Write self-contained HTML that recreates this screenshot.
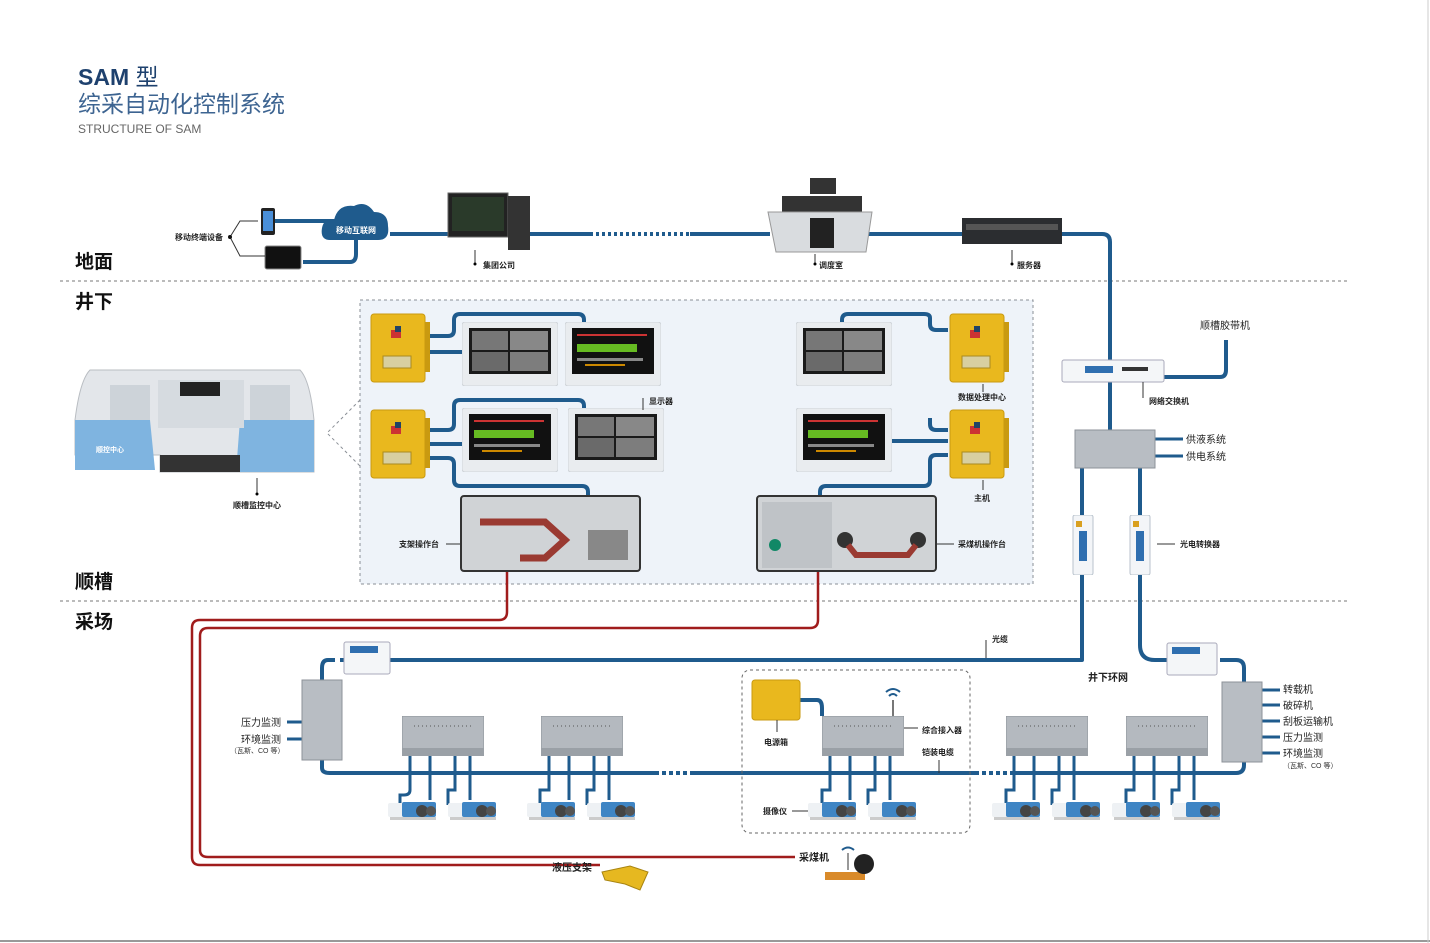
<!DOCTYPE html>
<html><head><meta charset="utf-8">
<style>
html,body{margin:0;padding:0;background:#fff;}
svg{display:block;font-family:"Liberation Sans","Noto Sans CJK SC",sans-serif;}
.t{font-size:8px;fill:#222;font-weight:bold}
.r{font-size:10px;fill:#222}
</style></head><body>
<svg width="1430" height="943" viewBox="0 0 1430 943" xmlns="http://www.w3.org/2000/svg">
<defs>
<symbol id="mon" viewBox="0 0 96 64"><rect x="0" y="0" width="96" height="64" rx="3" fill="#e9ecef" stroke="#cfd4d9"/><rect x="7" y="6" width="82" height="46" fill="#1a1a1a"/><rect x="10" y="9" width="36" height="19" fill="#777"/><rect x="48" y="9" width="38" height="19" fill="#888"/><rect x="10" y="30" width="36" height="19" fill="#6a6a6a"/><rect x="48" y="30" width="38" height="19" fill="#7d7d7d"/></symbol>
<symbol id="mon2" viewBox="0 0 96 64"><rect x="0" y="0" width="96" height="64" rx="3" fill="#e9ecef" stroke="#cfd4d9"/><rect x="7" y="6" width="82" height="46" fill="#111"/><rect x="12" y="12" width="70" height="2" fill="#c33"/><rect x="12" y="22" width="60" height="8" fill="#6b2"/><rect x="12" y="36" width="66" height="3" fill="#888"/><rect x="20" y="42" width="40" height="2" fill="#c80"/></symbol>
<symbol id="ybox" viewBox="0 0 62 72"><rect x="2" y="2" width="54" height="68" rx="3" fill="#e9b81e" stroke="#c99a10"/><rect x="56" y="10" width="5" height="50" fill="#c99a10"/><rect x="14" y="44" width="28" height="12" fill="#d8cfa0" stroke="#a98a20"/><rect x="22" y="18" width="10" height="8" fill="#c33"/><rect x="26" y="14" width="6" height="6" fill="#246"/></symbol>
<symbol id="jb" viewBox="0 0 82 40"><rect x="0" y="0" width="82" height="40" fill="#b4b9bf" stroke="#8d9298"/><rect x="0" y="32" width="82" height="8" fill="#9aa0a6"/><line x1="12" y1="10" x2="70" y2="10" stroke="#555" stroke-dasharray="1 3"/></symbol>
<symbol id="cam" viewBox="0 0 52 20"><rect x="0" y="3" width="20" height="14" rx="2" fill="#eef1f4"/><rect x="14" y="2" width="34" height="15" rx="2" fill="#3f85c4"/><circle cx="34" cy="11" r="6" fill="#444"/><circle cx="43" cy="11" r="5" fill="#555"/><rect x="2" y="17" width="46" height="3" fill="#ccc"/></symbol>
<symbol id="conv" viewBox="0 0 26 60"><rect x="3" y="0" width="20" height="60" rx="2" fill="#f3f5f8" stroke="#b8c2cc"/><rect x="9" y="16" width="8" height="30" fill="#2f6fb0"/><rect x="6" y="6" width="6" height="6" fill="#d9a020"/></symbol>
</defs>

<rect x="0" y="0" width="1430" height="943" fill="#fff"/>
<line x1="0" y1="941" x2="1430" y2="941" stroke="#999" stroke-width="2"/>
<line x1="1428" y1="0" x2="1428" y2="943" stroke="#ccc"/>

<!-- Title -->
<text x="78" y="85" font-size="23" font-weight="bold" fill="#1e416e">SAM <tspan font-weight="normal">型</tspan></text>
<text x="78" y="112" font-size="23" fill="#3d6491">综采自动化控制系统</text>
<text x="78" y="133" font-size="12" fill="#666">STRUCTURE OF SAM</text>

<!-- section lines/labels -->
<line x1="60" y1="281" x2="1350" y2="281" stroke="#777" stroke-dasharray="3 3"/>
<line x1="60" y1="601" x2="1350" y2="601" stroke="#777" stroke-dasharray="3 3"/>
<g font-size="19" font-weight="bold" fill="#111">
<text x="75" y="268">地面</text><text x="75" y="308">井下</text><text x="75" y="588">顺槽</text><text x="75" y="628">采场</text></g>

<!-- panel -->
<rect x="360" y="300" width="673" height="284" fill="#eef3f9" stroke="#8a8f96" stroke-dasharray="3 3"/>
<polyline points="360,400 327,433 360,466" fill="none" stroke="#8a8f96" stroke-dasharray="3 3"/>

<!-- blue lines -->
<g fill="none" stroke="#1f5b8d" stroke-width="4" stroke-linejoin="round">
<path d="M390 234 H590"/><path d="M590 234 H690" stroke-dasharray="3 3"/><path d="M690 234 H770"/><path d="M860 234 H965"/>
<path d="M1060 234 H1102 Q1110 234 1110 242 V432"/>
<path d="M275 221 H335"/><path d="M303 262 H350 Q356 262 356 254 V240"/>
<path d="M1160 377 H1220 Q1226 377 1226 370 V340"/>
<path d="M1082 468 V660 Q1082 660 1072 660 H340"/>
<path d="M1140 468 V645 Q1140 660 1155 660 H1180"/>
<path d="M1220 660 H1236 Q1244 660 1244 668 V682"/>
<path d="M335 660 H328 Q322 660 322 668 V682"/>
<path d="M322 760 V768 Q322 773 330 773 H655"/><path d="M655 773 H692" stroke-dasharray="4 3"/><path d="M692 773 H975"/><path d="M975 773 H1010" stroke-dasharray="4 3"/><path d="M1010 773 H1236 Q1244 773 1244 765 V762"/>
<path d="M800 700 H817 Q822 700 822 708 V716"/>
<!-- panel lines -->
<path d="M430 336 H448 Q454 336 454 330 V320 Q454 314 460 314 H578 Q584 314 584 320 V326"/>
<path d="M430 352 H462"/>
<path d="M430 430 H448 Q454 430 454 424 V406 Q454 400 460 400 H578 Q584 400 584 406 V412"/>
<path d="M430 444 H462"/>
<path d="M430 458 H448 Q454 458 454 464 V480 Q454 486 460 486 H582 Q588 486 588 492 V496"/>
<path d="M948 330 H936 Q930 330 930 324 V318 Q930 314 924 314 H848 Q842 314 842 320 V326"/>
<path d="M948 430 H936 Q930 430 930 424 V418"/>
<path d="M890 441 H948"/>
<path d="M948 455 H936 Q930 455 930 461 V480 Q930 486 924 486 H826 Q820 486 820 492 V496"/>
<!-- field bus lines -->
<path d="M1262 690 H1280 M1262 705 H1280 M1262 721 H1280 M1262 737 H1280 M1262 753 H1280" stroke-width="3"/>
<path d="M1155 439 H1183 M1155 456 H1183" stroke-width="3"/>
<path d="M287 722 H302 M287 739 H302" stroke-width="3"/>
</g>
<!-- camera cables -->
<g fill="none" stroke="#1f5b8d" stroke-width="3">
<path d="M410 755 V790 Q410 795 404 795 H400 V805 M430 755 V800 M455 755 V790 H448 V805 M470 755 V800"/>
<path d="M549 755 V790 H540 V805 M569 755 V800 M594 755 V790 H587 V805 M609 755 V800"/>
<path d="M830 755 V790 H822 V805 M850 755 V800 M875 755 V790 H868 V805 M890 755 V800"/>
<path d="M1014 755 V790 H1006 V805 M1034 755 V800 M1059 755 V790 H1052 V805 M1074 755 V800"/>
<path d="M1134 755 V790 H1126 V805 M1154 755 V800 M1179 755 V790 H1172 V805 M1194 755 V800"/>
</g>

<!-- red lines -->
<g fill="none" stroke="#a01c1c" stroke-width="2.5">
<path d="M507 572 V612 Q507 620 499 620 H200 Q192 620 192 628 V857 Q192 865 200 865 H600"/>
<path d="M818 572 V620 Q818 628 810 628 H208 Q200 628 200 636 V850 Q200 857 208 857 H795"/>
</g>

<!-- top devices -->
<rect x="261" y="208" width="14" height="27" rx="2" fill="#222"/><rect x="263" y="211" width="10" height="20" fill="#4a8fd8"/>
<rect x="265" y="246" width="36" height="23" rx="2" fill="#111" stroke="#888"/>
<path d="M330 240 Q320 240 322 228 Q324 218 334 220 Q338 204 354 206 Q366 200 374 212 Q388 212 388 226 Q390 240 378 240 Z" fill="#1f5b8d"/>
<text x="336" y="233" font-size="8" fill="#fff" font-weight="bold">移动互联网</text>
<path d="M258 221 H240 L230 237 L240 256 H265" fill="none" stroke="#333" stroke-width="1"/>
<circle cx="230" cy="237" r="2" fill="#111"/>
<text x="175" y="240" class="t" font-weight="normal">移动终端设备</text>
<rect x="448" y="193" width="60" height="44" fill="#222" stroke="#666"/><rect x="452" y="197" width="52" height="34" fill="#2a3a2a"/><rect x="508" y="196" width="22" height="54" fill="#333"/>
<line x1="475" y1="250" x2="475" y2="264" stroke="#333"/><circle cx="475" cy="264" r="1.5"/><text x="483" y="268" class="t">集团公司</text>
<rect x="810" y="178" width="26" height="16" fill="#333"/><rect x="782" y="196" width="80" height="16" fill="#333"/>
<path d="M768 212 H872 L866 252 H776 Z" fill="#d9dcdf" stroke="#999"/><rect x="810" y="218" width="24" height="30" fill="#222"/>
<line x1="815" y1="254" x2="815" y2="264" stroke="#333"/><circle cx="815" cy="264" r="1.5"/><text x="819" y="268" class="t">调度室</text>
<rect x="962" y="218" width="100" height="26" fill="#2b2d30"/><rect x="966" y="224" width="92" height="6" fill="#555"/>
<line x1="1012" y1="250" x2="1012" y2="264" stroke="#333"/><circle cx="1012" cy="264" r="1.5"/><text x="1017" y="268" class="t">服务器</text>

<!-- control center -->
<path d="M90 370 H300 Q310 380 314 420 V472 H160 V455 H110 Q80 460 75 455 V420 Q80 380 90 370 Z" fill="#e3e6ea" stroke="#b9bdc2"/>
<path d="M75 420 L150 420 L155 470 H75 Z" fill="#7fb4e0"/><path d="M240 420 H314 V472 H236 Z" fill="#7fb4e0"/>
<rect x="110" y="385" width="40" height="35" fill="#cdd3d9"/><rect x="158" y="380" width="86" height="48" fill="#d6dbe0"/><rect x="250" y="385" width="40" height="35" fill="#cdd3d9"/>
<rect x="180" y="382" width="40" height="14" fill="#222"/><rect x="160" y="455" width="80" height="17" fill="#333"/>
<text x="96" y="452" font-size="7" fill="#fff" font-weight="bold">顺控中心</text>
<line x1="257" y1="478" x2="257" y2="494" stroke="#333"/><circle cx="257" cy="494" r="1.5"/><text x="233" y="508" class="t">顺槽监控中心</text>

<!-- panel contents -->
<use href="#ybox" x="369" y="312" width="62" height="72"/>
<use href="#ybox" x="369" y="408" width="62" height="72"/>
<use href="#ybox" x="948" y="312" width="62" height="72"/>
<use href="#ybox" x="948" y="408" width="62" height="72"/>
<use href="#mon" x="462" y="322" width="96" height="64"/>
<use href="#mon2" x="565" y="322" width="96" height="64"/>
<use href="#mon2" x="462" y="408" width="96" height="64"/>
<use href="#mon" x="568" y="408" width="96" height="64"/>
<use href="#mon" x="796" y="322" width="96" height="64"/>
<use href="#mon2" x="796" y="408" width="96" height="64"/>
<line x1="643" y1="398" x2="643" y2="410" stroke="#333"/><text x="649" y="404" class="t">显示器</text>
<line x1="983" y1="384" x2="983" y2="392" stroke="#333"/><text x="958" y="400" class="t">数据处理中心</text>
<line x1="983" y1="480" x2="983" y2="490" stroke="#333"/><text x="974" y="501" class="t">主机</text>
<rect x="461" y="496" width="179" height="75" rx="3" fill="#d0d3d6" stroke="#333" stroke-width="2"/>
<path d="M480 522 H545 L565 540 L545 558 H520" fill="none" stroke="#9a3a32" stroke-width="7"/>
<rect x="588" y="530" width="40" height="30" fill="#888"/>
<rect x="757" y="496" width="179" height="75" rx="3" fill="#d0d3d6" stroke="#333" stroke-width="2"/>
<rect x="762" y="502" width="70" height="66" fill="#bfc3c7"/><circle cx="775" cy="545" r="6" fill="#186"/>
<circle cx="845" cy="540" r="8" fill="#333"/><circle cx="918" cy="540" r="8" fill="#333"/><path d="M848 545 L856 555 H908 L916 545" fill="none" stroke="#9a3a32" stroke-width="6"/>
<text x="399" y="547" class="t">支架操作台</text><line x1="446" y1="544" x2="461" y2="544" stroke="#333"/>
<line x1="936" y1="544" x2="954" y2="544" stroke="#333"/><text x="958" y="547" class="t">采煤机操作台</text>

<!-- switch area -->
<rect x="1062" y="360" width="102" height="22" rx="2" fill="#f4f6f8" stroke="#aab"/><rect x="1085" y="366" width="28" height="7" fill="#2f6fb0"/><rect x="1122" y="367" width="26" height="4" fill="#333"/>
<line x1="1143" y1="382" x2="1143" y2="398" stroke="#333"/><text x="1149" y="404" class="t">网络交换机</text>
<text x="1200" y="329" class="r" font-size="9">顺槽胶带机</text>
<rect x="1075" y="430" width="80" height="38" fill="#b8bdc3" stroke="#8d9298"/>
<text x="1186" y="443" class="r">供液系统</text><text x="1186" y="460" class="r">供电系统</text>
<use href="#conv" x="1070" y="515" width="26" height="60"/><use href="#conv" x="1127" y="515" width="26" height="60"/>
<line x1="1157" y1="544" x2="1175" y2="544" stroke="#333"/><text x="1180" y="547" class="t">光电转换器</text>

<!-- field -->
<rect x="344" y="642" width="46" height="32" rx="2" fill="#f4f6f8" stroke="#aab"/><rect x="350" y="646" width="28" height="7" fill="#2f6fb0"/>
<rect x="1167" y="643" width="50" height="32" rx="2" fill="#f4f6f8" stroke="#aab"/><rect x="1172" y="647" width="28" height="7" fill="#2f6fb0"/>
<rect x="302" y="680" width="40" height="80" fill="#b8bdc3" stroke="#8d9298"/>
<rect x="1222" y="682" width="40" height="80" fill="#b8bdc3" stroke="#8d9298"/>
<text x="241" y="726" class="r">压力监测</text><text x="241" y="743" class="r">环境监测</text><text x="230" y="753" font-size="7" fill="#333">（瓦斯、CO 等）</text>
<g class="r"><text x="1283" y="693">转载机</text><text x="1283" y="709">破碎机</text><text x="1283" y="725">刮板运输机</text><text x="1283" y="741">压力监测</text><text x="1283" y="757">环境监测</text></g>
<text x="1283" y="768" font-size="7" fill="#333">（瓦斯、CO 等）</text>
<line x1="986" y1="640" x2="986" y2="658" stroke="#333"/><text x="992" y="642" class="t">光缆</text>
<text x="1088" y="681" font-size="10" font-weight="bold" fill="#222">井下环网</text>
<rect x="742" y="670" width="228" height="163" rx="8" fill="none" stroke="#666" stroke-dasharray="3 3"/>
<rect x="752" y="680" width="48" height="40" rx="3" fill="#e9b81e" stroke="#c99a10"/>
<line x1="777" y1="720" x2="777" y2="732" stroke="#333"/><text x="764" y="745" class="t">电源箱</text>
<path d="M886 692 Q893 686 900 692 M889 696 Q893 692 897 696" fill="none" stroke="#1f5b8d" stroke-width="2"/><line x1="893" y1="700" x2="893" y2="716" stroke="#777" stroke-width="2"/>
<line x1="903" y1="728" x2="918" y2="728" stroke="#333"/><text x="922" y="733" class="t">综合接入器</text>
<text x="922" y="755" class="t">铠装电缆</text><line x1="939" y1="760" x2="939" y2="773" stroke="#333"/>
<text x="763" y="814" class="t">摄像仪</text><line x1="792" y1="811" x2="810" y2="811" stroke="#333"/>
<use href="#jb" x="402" y="716" width="82" height="40"/>
<use href="#jb" x="541" y="716" width="82" height="40"/>
<use href="#jb" x="822" y="716" width="82" height="40"/>
<use href="#jb" x="1006" y="716" width="82" height="40"/>
<use href="#jb" x="1126" y="716" width="82" height="40"/>
<g>
<use href="#cam" x="388" y="800" width="52" height="20"/><use href="#cam" x="448" y="800" width="52" height="20"/>
<use href="#cam" x="527" y="800" width="52" height="20"/><use href="#cam" x="587" y="800" width="52" height="20"/>
<use href="#cam" x="808" y="800" width="52" height="20"/><use href="#cam" x="868" y="800" width="52" height="20"/>
<use href="#cam" x="992" y="800" width="52" height="20"/><use href="#cam" x="1052" y="800" width="52" height="20"/>
<use href="#cam" x="1112" y="800" width="52" height="20"/><use href="#cam" x="1172" y="800" width="52" height="20"/>
</g>
<text x="552" y="871" font-size="10" font-weight="bold" fill="#222">液压支架</text>
<path d="M602 872 L630 866 L648 872 L640 890 L625 884 L605 880 Z" fill="#e6b820" stroke="#a88410"/>
<text x="799" y="861" font-size="10" font-weight="bold" fill="#222">采煤机</text>
<path d="M842 850 Q848 845 854 850" fill="none" stroke="#1f5b8d" stroke-width="2"/><line x1="848" y1="853" x2="848" y2="870" stroke="#333"/>
<rect x="825" y="872" width="40" height="8" fill="#d98a2a"/><circle cx="864" cy="864" r="10" fill="#222"/>
</svg>
</body></html>
